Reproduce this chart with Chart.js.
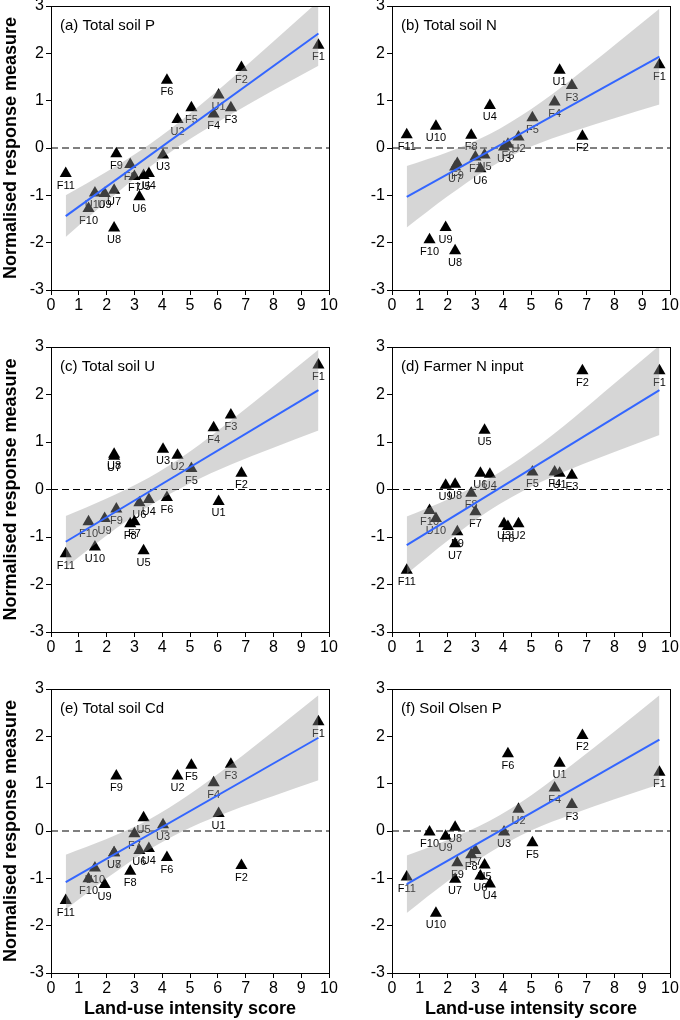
<!DOCTYPE html>
<html>
<head>
<meta charset="utf-8">
<script src="https://cdn.jsdelivr.net/npm/chart.js@4.4.1/dist/chart.umd.min.js"></script>
<style>
    body { margin: 0; background: #fff; }
    #quadro { position: relative; width: 680px; height: 1020px; overflow: hidden; }
    canvas { position: absolute; }
</style>
</head>
<body>
<div id="quadro">
    <canvas id="grafico1" width="340" height="340" style="left:0px;top:-10px"></canvas>
    <canvas id="grafico2" width="340" height="340" style="left:340px;top:-10px"></canvas>
    <canvas id="grafico3" width="340" height="340" style="left:0px;top:320px"></canvas>
    <canvas id="grafico4" width="340" height="340" style="left:340px;top:320px"></canvas>
    <canvas id="grafico5" width="340" height="355" style="left:0px;top:665px"></canvas>
    <canvas id="grafico6" width="340" height="355" style="left:340px;top:665px"></canvas>
</div>
<script>
// sites and land-use intensity score (same for every panel)
const sites = ['F1', 'F2', 'F3', 'F4', 'F5', 'F6', 'F7', 'F8', 'F9', 'F10', 'F11',
    'U1', 'U2', 'U3', 'U4', 'U5', 'U6', 'U7', 'U8', 'U9', 'U10'];
const intensity = [9.62, 6.85, 6.47, 5.85, 5.05, 4.17, 3.0, 2.85, 2.35, 1.35, 0.53,
    6.03, 4.55, 4.03, 3.52, 3.33, 3.18, 2.27, 2.27, 1.93, 1.58];

// normalised response per panel
const totalSoilP = [2.17, 1.70, 0.85, 0.72, 0.85, 1.43, -0.60, -0.35, -0.12, -1.28, -0.54,
    1.12, 0.60, -0.15, -0.54, -0.58, -1.03, -0.89, -1.69, -0.96, -0.95];
const totalSoilN = [1.76, 0.25, 1.32, 0.97, 0.64, 0.08, -0.19, 0.27, -0.33, -1.94, 0.28,
    1.64, 0.23, 0.02, 0.90, -0.15, -0.44, -0.40, -2.17, -1.68, 0.46];
const totalSoilU = [2.62, 0.34, 1.57, 1.30, 0.44, -0.17, -0.68, -0.72, -0.41, -0.68, -1.35,
    -0.25, 0.72, 0.85, -0.21, -1.29, -0.28, 0.70, 0.74, -0.61, -1.21];
const farmerNInput = [2.50, 2.50, 0.30, 0.37, 0.37, -0.78, -0.47, -0.08, -0.89, -0.44, -1.70,
    0.34, -0.72, -0.72, 0.32, 1.25, 0.34, -1.14, 0.11, 0.09, -0.61];
const totalSoilCd = [2.31, -0.73, 1.41, 1.02, 1.39, -0.56, -0.06, -0.85, 1.16, -1.01, -1.47,
    0.37, 1.16, 0.13, -0.37, 0.28, -0.41, -0.46, -0.46, -1.13, -0.78];
const soilOlsenP = [1.24, 2.02, 0.56, 0.91, -0.25, 1.63, -0.41, -0.50, -0.67, -0.02, -0.97,
    1.43, 0.46, -0.02, -1.12, -0.72, -0.95, -1.02, 0.08, -0.11, -1.74];

// fitted line (ends) and confidence band
const fitX = [0.53, 9.62];
const fitTotalSoilP = [-1.44, 2.42];
const fitTotalSoilN = [-1.03, 1.93];
const fitTotalSoilU = [-1.10, 2.09];
const fitFarmerN = [-1.17, 2.09];
const fitTotalSoilCd = [-1.08, 1.97];
const fitSoilOlsenP = [-1.12, 1.93];

const bandX = [0.53, 2, 3.5, 5, 6.5, 8, 9.62];
const upperTotalSoilP = [-1.00, -0.50, 0.06, 0.73, 1.47, 2.25, 3.10];
const lowerTotalSoilP = [-1.88, -1.13, -0.42, 0.19, 0.72, 1.22, 1.74];
const upperTotalSoilN = [-0.38, -0.09, 0.29, 0.82, 1.47, 2.17, 2.94];
const lowerTotalSoilN = [-1.68, -1.02, -0.42, 0.03, 0.35, 0.63, 0.92];
const upperTotalSoilU = [-0.56, -0.19, 0.24, 0.80, 1.47, 2.17, 2.94];
const lowerTotalSoilU = [-1.64, -0.97, -0.36, 0.13, 0.53, 0.88, 1.24];
const upperFarmerN = [-0.57, -0.21, 0.23, 0.81, 1.49, 2.23, 3.03];
const lowerFarmerN = [-1.78, -1.08, -0.44, 0.06, 0.45, 0.79, 1.15];
const upperTotalSoilCd = [-0.50, -0.17, 0.23, 0.78, 1.42, 2.11, 2.87];
const lowerTotalSoilCd = [-1.66, -1.00, -0.40, 0.07, 0.43, 0.74, 1.07];
const upperSoilOlsenP = [-0.52, -0.19, 0.21, 0.75, 1.41, 2.10, 2.87];
const lowerSoilOlsenP = [-1.73, -1.06, -0.46, 0.01, 0.36, 0.67, 0.99];

const xTicks = [0, 1, 2, 3, 4, 5, 6, 7, 8, 9, 10];
const yTicks = [-3, -2, -1, 0, 1, 2, 3];
const zeroX = [0, 10];
const zeroY = [0, 0];

const fonte = '"Liberation Sans", Arial, sans-serif';

// canvas geometry per column / row
const larguraEixoY = [51, 52];
const margemDireita = [11, 10];
const margemTopo = [16, 27, 24];
const alturaEixoX = [40, 28, 47];

function pontos(xs, ys) {
    return xs.map((x, i) => ({ x: x, y: ys[i] }));
}

const molduraPlugin = {
    id: 'moldura',
    afterDatasetDraw(chart, args) {
        // site labels go right after the triangles, so the band covers them too
        if (!chart.data.datasets[args.index].rotulos) return;
        const ctx = chart.ctx;
        ctx.save();
        ctx.font = '11px ' + fonte;
        ctx.fillStyle = '#000';
        ctx.textAlign = 'center';
        ctx.textBaseline = 'middle';
        args.meta.data.forEach((pt, i) => {
            ctx.fillText(sites[i], pt.x, pt.y + 12);
        });
        ctx.restore();
    },
    afterDraw(chart) {
        const a = chart.chartArea;
        const ctx = chart.ctx;
        ctx.save();
        ctx.strokeStyle = '#000';
        ctx.lineWidth = 1;
        ctx.strokeRect(Math.round(a.left) + 0.5, Math.round(a.top) + 0.5,
            Math.round(a.right - a.left), Math.round(a.bottom - a.top));
        ctx.font = '15px ' + fonte;
        ctx.fillStyle = '#000';
        ctx.textAlign = 'left';
        ctx.textBaseline = 'middle';
        ctx.fillText(chart.options.plugins.moldura.titulo, a.left + 9, a.top + 20);
        ctx.restore();
    }
};

function grafico(id, titulo, valores, fit, upper, lower, col, row) {
    const ctx = document.getElementById(id);

    new Chart(ctx, {
        type: 'scatter',
        data: {
            datasets: [{
                type: 'line',
                data: pontos(fitX, fit),
                borderColor: '#3366FF',
                borderWidth: 2,
                pointRadius: 0,
                order: 0
            }, {
                type: 'line',
                data: pontos(bandX, upper),
                borderWidth: 0,
                borderColor: 'rgba(0,0,0,0)',
                pointRadius: 0,
                cubicInterpolationMode: 'monotone',
                fill: '+1',
                backgroundColor: 'rgba(153,153,153,0.4)',
                order: 1
            }, {
                type: 'line',
                data: pontos(bandX, lower),
                borderWidth: 0,
                borderColor: 'rgba(0,0,0,0)',
                pointRadius: 0,
                cubicInterpolationMode: 'monotone',
                fill: false,
                order: 2
            }, {
                data: pontos(intensity, valores),
                rotulos: true,
                pointStyle: 'triangle',
                pointRadius: 7,
                backgroundColor: '#000',
                borderWidth: 0,
                order: 3
            }, {
                type: 'line',
                data: pontos(zeroX, zeroY),
                borderColor: '#000',
                borderWidth: 1,
                borderDash: [7, 4],
                pointRadius: 0,
                order: 4
            }]
        },
        options: {
            responsive: false,
            animation: false,
            devicePixelRatio: 1,
            events: [],
            layout: { padding: { top: margemTopo[row], right: margemDireita[col], left: 0, bottom: 0 } },
            plugins: {
                legend: { display: false },
                tooltip: { enabled: false },
                moldura: { titulo: titulo }
            },
            scales: {
                x: {
                    type: 'linear',
                    min: 0,
                    max: 10,
                    afterBuildTicks: s => { s.ticks = xTicks.map(v => ({ value: v })); },
                    afterFit: s => { s.height = alturaEixoX[row]; s.paddingLeft = 0; s.paddingRight = 0; },
                    grid: { drawOnChartArea: false, drawTicks: true, tickLength: 5, color: '#000' },
                    border: { display: true, color: '#000', width: 1 },
                    ticks: { color: '#000', padding: 1, maxRotation: 0, autoSkip: false, font: { family: fonte, size: 16 } },
                    title: {
                        display: row === 2,
                        text: 'Land-use intensity score',
                        color: '#000',
                        padding: { top: 2, bottom: 0 },
                        font: { family: fonte, size: 18, weight: 'bold' }
                    }
                },
                y: {
                    min: -3,
                    max: 3,
                    afterBuildTicks: s => { s.ticks = yTicks.map(v => ({ value: v })); },
                    afterFit: s => { s.width = larguraEixoY[col]; s.paddingTop = 0; s.paddingBottom = 0; },
                    grid: { drawOnChartArea: false, drawTicks: true, tickLength: 5, color: '#000' },
                    border: { display: true, color: '#000', width: 1 },
                    ticks: { color: '#000', padding: 2, font: { family: fonte, size: 16 } },
                    title: {
                        display: col === 0,
                        text: 'Normalised response measure',
                        color: '#000',
                        padding: { top: 0, bottom: 0 },
                        font: { family: fonte, size: 18, weight: 'bold' }
                    }
                }
            }
        },
        plugins: [molduraPlugin]
    });
}

grafico('grafico1', '(a) Total soil P', totalSoilP, fitTotalSoilP, upperTotalSoilP, lowerTotalSoilP, 0, 0);
grafico('grafico2', '(b) Total soil N', totalSoilN, fitTotalSoilN, upperTotalSoilN, lowerTotalSoilN, 1, 0);
grafico('grafico3', '(c) Total soil U', totalSoilU, fitTotalSoilU, upperTotalSoilU, lowerTotalSoilU, 0, 1);
grafico('grafico4', '(d) Farmer N input', farmerNInput, fitFarmerN, upperFarmerN, lowerFarmerN, 1, 1);
grafico('grafico5', '(e) Total soil Cd', totalSoilCd, fitTotalSoilCd, upperTotalSoilCd, lowerTotalSoilCd, 0, 2);
grafico('grafico6', '(f) Soil Olsen P', soilOlsenP, fitSoilOlsenP, upperSoilOlsenP, lowerSoilOlsenP, 1, 2);
</script>
</body>
</html>
